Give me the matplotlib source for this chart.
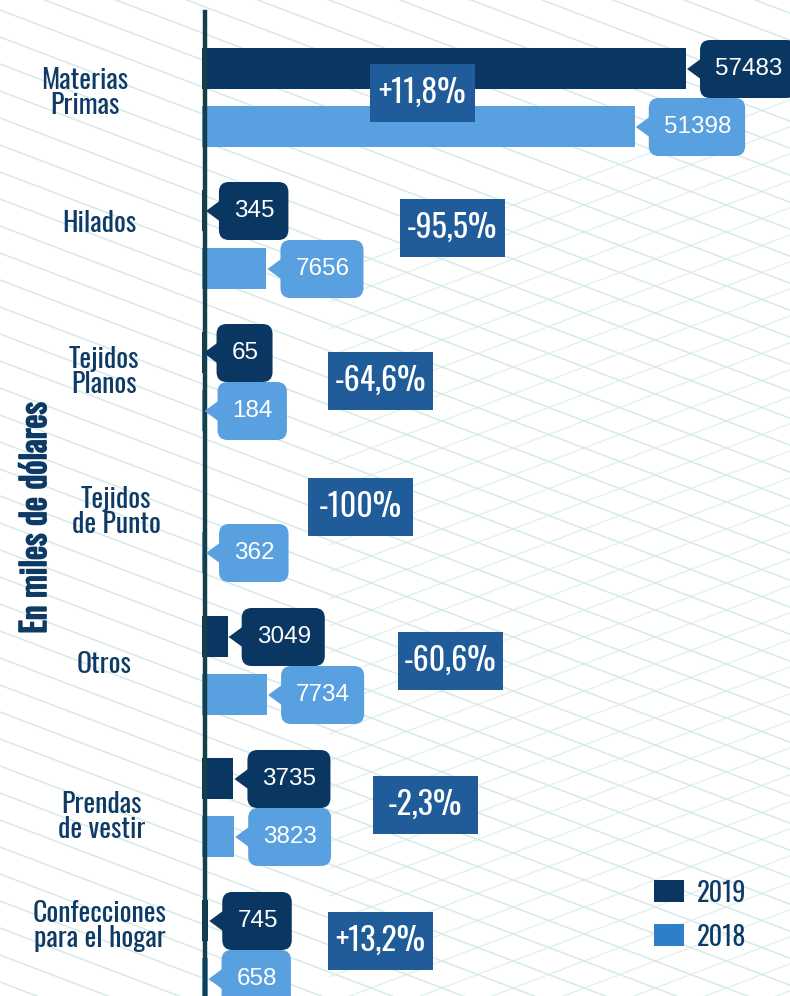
import numpy as np
import matplotlib.pyplot as plt
import matplotlib.patheffects as pe
from matplotlib.patches import Polygon, Rectangle, FancyBboxPatch
from matplotlib.transforms import IdentityTransform

categorias = ["Materias\nPrimas", "Hilados", "Tejidos\nPlanos", "Tejidos\nde Punto",
              "Otros", "Prendas\nde vestir", "Confecciones\npara el hogar"]
valores_2019 = [57483, 345, 65, 0, 3049, 3735, 745]
valores_2018 = [51398, 7656, 184, 362, 7734, 3823, 658]
variacion = ["+11,8%", "-95,5%", "-64,6%", "-100%", "-60,6%", "-2,3%", "+13,2%"]

# layout (pixels)
W, H = 790, 996
X0 = 203            # pixel where value 0 sits
PX = 0.00842        # pixels per unit
Y0, DY = 69, 142    # first 2019 bar centre, spacing between categories
OFF = 58            # offset of 2018 bar
BAR_H = 41
pct_x = [422, 452, 380, 360, 450, 425, 380]
pct_dy = [24, 17, 28, 12, 24, 26, 20]
lab_x = [85, 99, 104, 116, 104, 102, 100]
lab_dy = [24, 13, 19, 17, 27, 38, 5]

C19 = "#0a3762"
C18 = "#59a0e1"
CPCT = "#1f5c99"
CTXT = "#0d3b66"
NARROW = ["Oswald", "DejaVu Sans"]
ARIAL = ["Liberation Sans", "DejaVu Sans"]

k = 1 / PX  # data units per pixel in x
fig = plt.figure(figsize=(W / 100, H / 100), dpi=100)
ax = fig.add_axes([0, 0, 1, 1])
ax.set_xlim(-X0 * k, (W - X0) * k)
ax.set_ylim((H - Y0) / DY, -Y0 / DY)
ax.axis("off")

# background lattice
bg = "#d6eae7"
for c in np.arange(-800, 1400, 27):
    xs = np.array([0, W])
    ys = c + 0.38 * xs
    ax.plot((xs - X0) * k, (ys - Y0) / DY, color=bg, lw=1.1, zorder=0)
for c in np.arange(400, 1900, 27):
    xs = np.array([330, W])
    ys = c - 0.38 * xs
    ax.plot((xs - X0) * k, (ys - Y0) / DY, color=bg, lw=1.0, zorder=0, alpha=0.7)

y = np.arange(len(categorias))
bh = BAR_H / DY
ax.barh(y, valores_2019, height=bh, color=C19, left=-1 * k, zorder=2)
ax.barh(y + OFF / DY, valores_2018, height=bh, color=C18, left=-1 * k, zorder=2)

# axis line
ax.plot([(205 - X0) * k] * 2, [(12 - Y0) / DY, (H - Y0) / DY], color="#173f48", lw=3.2, zorder=5)

renderer = fig.canvas.get_renderer()


def callout(v, yc, color):
    tx, ty = ax.transData.transform((v, yc))   # display pixels
    ax.add_patch(Polygon([[tx, ty], [tx + 15, ty - 11], [tx + 15, ty + 11]], closed=True,
                         color=color, zorder=6, lw=0, transform=IdentityTransform()))
    t = ax.text(tx + 28, ty, str(v), ha="left", va="center", color="white",
                fontsize=17.5, family=ARIAL, zorder=7, transform=IdentityTransform())
    w = t.get_window_extent(renderer).width
    ax.add_patch(FancyBboxPatch((tx + 13, ty - 29), w + 29, 58,
                                boxstyle="round,pad=0,rounding_size=10", fc=color, ec="none",
                                zorder=6, transform=IdentityTransform()))


for i in range(len(categorias)):
    if valores_2019[i] > 0:
        callout(valores_2019[i], y[i], C19)
    callout(valores_2018[i], y[i] + OFF / DY, C18)

    cx = (pct_x[i] - X0) * k
    cy = y[i] + pct_dy[i] / DY
    ax.add_patch(Rectangle((cx - 52.5 * k, cy - 29 / DY), 105 * k, 58 / DY,
                           color=CPCT, zorder=8, lw=0))
    ax.text(cx, cy, variacion[i], ha="center", va="center", color="white",
            fontsize=23, family=NARROW, zorder=9)

    ax.text((lab_x[i] - X0) * k, y[i] + lab_dy[i] / DY, categorias[i], ha="center",
            va="center", color=CTXT, fontsize=20, family=NARROW, linespacing=0.92, zorder=3)

ax.text((35 - X0) * k, (518 - Y0) / DY, "En miles de dólares", rotation=90,
        ha="center", va="center", color=CTXT, fontsize=24, fontweight="bold",
        family=NARROW, zorder=3,
        path_effects=[pe.withStroke(linewidth=1.2, foreground=CTXT)])

# legend
for lab, col, yp in [("2019", C19, 891), ("2018", "#2f7ec8", 935)]:
    ax.add_patch(Rectangle(((654 - X0) * k, (yp - 11 - Y0) / DY), 30 * k, 22 / DY,
                           color=col, lw=0, zorder=3))
    ax.text((697 - X0) * k, (yp + 2 - Y0) / DY, lab, ha="left", va="center",
            color=CTXT, fontsize=19, family=NARROW, zorder=3)

fig.savefig("out.png", dpi=100)
